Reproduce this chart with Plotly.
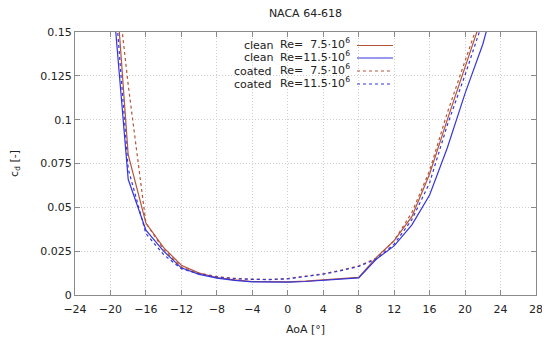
import plotly.graph_objects as go

aoa = [-20, -18, -16, -14, -12, -10, -8, -6, -4, -2, 0, 2, 4, 6, 8, 10, 12, 14, 16, 18, 20, 22, 24]

clean_75 = [0.220, 0.080, 0.041, 0.027, 0.017, 0.0125, 0.0100, 0.0086, 0.0077, 0.0074, 0.0075,
            0.0079, 0.0085, 0.0092, 0.0100, 0.0215, 0.0310, 0.0447, 0.0690, 0.1000, 0.1290, 0.1600, 0.195]
clean_115 = [0.186, 0.066, 0.037, 0.025, 0.0155, 0.0118, 0.0096, 0.0083, 0.0075, 0.0072, 0.0073,
             0.0077, 0.0083, 0.0090, 0.0098, 0.0205, 0.0280, 0.0400, 0.0570, 0.0840, 0.1150, 0.1430, 0.180]
coated_75 = [0.210, 0.120, 0.041, 0.026, 0.016, 0.0125, 0.0105, 0.0095, 0.0090, 0.0089, 0.0094,
             0.0106, 0.0121, 0.0141, 0.0166, 0.0210, 0.0310, 0.0470, 0.0710, 0.1040, 0.1330, 0.1630, 0.198]
coated_115 = [0.204, 0.072, 0.035, 0.023, 0.015, 0.0120, 0.0102, 0.0093, 0.0089, 0.0088, 0.0092,
              0.0104, 0.0119, 0.0139, 0.0163, 0.0205, 0.0290, 0.0430, 0.0640, 0.0970, 0.1255, 0.1560, 0.190]

series = [
    ("clean", "Re=\u00a0\u00a07.5·10<sup>6</sup>", clean_75, "#b4543a", "solid"),
    ("clean", "Re=11.5·10<sup>6</sup>", clean_115, "#3535dd", "solid"),
    ("coated", "Re=\u00a0\u00a07.5·10<sup>6</sup>", coated_75, "#b4543a", "3px,3px"),
    ("coated", "Re=11.5·10<sup>6</sup>", coated_115, "#3535dd", "3px,3px"),
]

FONT = "DejaVu Sans"
TXT = "#222"
OFF = 8  # page body margin offset
W, H = 550 - OFF, 343 - OFF
L, R, T, B = 75 - OFF, 536 - OFF, 32 - OFF, 295 - OFF

fig = go.Figure()
for name, re, vals, col, dash in series:
    fig.add_trace(go.Scatter(x=aoa, y=vals, mode="lines", name=name + " " + re,
                             line=dict(color=col, width=1.2, dash=dash), showlegend=False))

def px(x): return (x - OFF - L) / (R - L)
def py(y): return (B - (y - OFF)) / (B - T)

rows = [45.5, 58, 71, 84]
name_right = {"clean": 276, "coated": 274}
for (name, re, vals, col, dash), ry in zip(series, rows):
    f = dict(family=FONT, size=11, color=TXT)
    fig.add_annotation(xref="paper", yref="paper", x=px(name_right[name]), y=py(ry), xanchor="right",
                       yanchor="middle", text=name, showarrow=False, font=f)
    fig.add_annotation(xref="paper", yref="paper", x=px(352), y=py(ry - 1.5), xanchor="right",
                       yanchor="middle", text=re, showarrow=False, font=f)
    fig.add_shape(type="line", xref="paper", yref="paper", x0=px(357), x1=px(393), y0=py(ry), y1=py(ry),
                  line=dict(color=col, width=1.2, dash=dash))

axis_common = dict(showline=True, linecolor="#8a8a8a", linewidth=1, mirror="allticks",
                   ticks="inside", ticklen=5, tickcolor="#8a8a8a", automargin=False,
                   showgrid=True, gridcolor="#cfcfcf", griddash="1px,2px", gridwidth=1,
                   zeroline=False, tickfont=dict(family=FONT, size=11, color=TXT))

fig.update_layout(
    width=W, height=H,
    margin=dict(l=L, r=W - R, t=T, b=H - B, autoexpand=False),
    paper_bgcolor="white", plot_bgcolor="white",
    title=dict(text="NACA 64-618", x=(305.5 - OFF) / W, xanchor="center",
               y=1 - (13 - OFF) / H, yanchor="middle", font=dict(family=FONT, size=11, color=TXT)),
    xaxis=dict(range=[-24, 28], dtick=4, tick0=-24, ticklabelstandoff=4,
               title=dict(text="AoA [°]", font=dict(family=FONT, size=11, color=TXT), standoff=10),
               **axis_common),
    yaxis=dict(range=[0, 0.15], dtick=0.025, tick0=0,
               title=dict(text="c<sub>d</sub> [-]", font=dict(family=FONT, size=11, color=TXT), standoff=28),
               **axis_common),
)

fig.write_html("out.html")
